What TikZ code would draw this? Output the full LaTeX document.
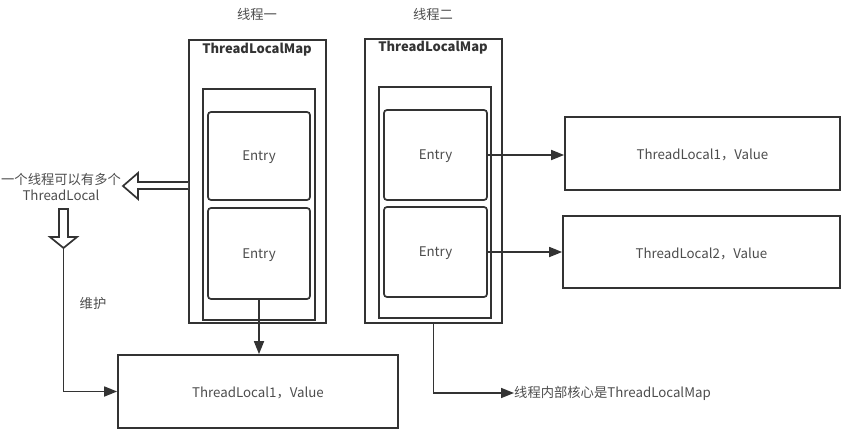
\documentclass[tikz,border=0pt]{standalone}
\usepackage{fontspec}
\setmainfont{Noto Sans CJK SC}
\usetikzlibrary{arrows.meta}
\definecolor{ln}{HTML}{333333}
\definecolor{tx}{HTML}{4D4D4D}
\begin{document}
\begin{tikzpicture}[x=1pt,y=-1pt,
  box/.style={draw=ln,line width=1.7pt,fill=white,inner sep=0pt},
  entrybox/.style={box,rounded corners=3pt},
  lbl/.style={text=tx,font=\fontsize{13.3}{15.5}\selectfont,inner sep=0pt},
  maplbl/.style={text=ln,font=\fontsize{13}{15}\selectfont\bfseries,inner sep=0pt},
  conn/.style={draw=ln,line width=1.7pt,-{Triangle[length=13pt,width=10pt]}},
  hollow/.style={draw=ln,line width=1.7pt,fill=white,line join=miter}]
\useasboundingbox (0,0) rectangle (851,436);
% thread 1
\node[box,minimum width=137pt,minimum height=283pt] (t1) at (257.5,181.5) {};
\node[box,minimum width=112pt,minimum height=231pt] (i1) at (259,204.5) {};
\node[entrybox,minimum width=102pt,minimum height=88pt] (e1a) at (259,156) {};
\node[entrybox,minimum width=102pt,minimum height=91pt] (e1b) at (259,253.5) {};
\node[lbl] (e1at) at ([yshift=-1.5pt]e1a.center) {Entry};
\node[lbl] (e1bt) at ([yshift=-1.5pt]e1b.center) {Entry};
\node[lbl] (ttl1) at (257,14) {线程一};
\node[maplbl] (m1) at (257,50) {ThreadLocalMap};
% thread 2
\node[box,minimum width=137pt,minimum height=284pt] (t2) at (433.5,181) {};
\node[box,minimum width=112pt,minimum height=231pt] (i2) at (435,202.5) {};
\node[entrybox,minimum width=103pt,minimum height=90pt] (e2a) at (435.5,155) {};
\node[entrybox,minimum width=103pt,minimum height=90pt] (e2b) at (435.5,252) {};
\node[lbl] (e2at) at ([yshift=-1.5pt]e2a.center) {Entry};
\node[lbl] (e2bt) at ([yshift=-1.5pt]e2b.center) {Entry};
\node[lbl] (ttl2) at (433,14) {线程二};
\node[maplbl] (m2) at (433,48) {ThreadLocalMap};
% value boxes
\node[box,minimum width=275pt,minimum height=73pt] (r1) at (702.5,153.5) {};
\node[lbl] (r1t) at ([yshift=-1.5pt]r1.center) {ThreadLocal1，Value};
\node[box,minimum width=277pt,minimum height=72pt] (r2) at (701.5,252) {};
\node[lbl] (r2t) at ([yshift=-1.5pt]r2.center) {ThreadLocal2，Value};
\node[box,minimum width=280pt,minimum height=73pt] (b1) at (258,391.5) {};
\node[lbl] (b1t) at ([yshift=-1.5pt]b1.center) {ThreadLocal1，Value};
% connectors
\draw[conn] (e2a.east) -- (e2a.east -| r1.west);
\draw[conn] (e2b.east) -- (e2b.east -| r2.west);
\draw[conn] (e1b.south) -- (e1b.south |- b1.north);
\node[lbl,anchor=west] (core) at (514,393) {线程内部核心是ThreadLocalMap};
\draw[conn] (t2.south) |- (core.west);
% left side
\node[lbl,align=center] (many) at (61,187) {一个线程可以有多个\\ThreadLocal};
\draw[hollow] (188,182) -- (138,182) -- (138,173) -- (123,186) -- (138,199) -- (138,189) -- (188,189);
\draw[hollow] (59,209) -- (59,237) -- (50,237) -- (63.5,248) -- (77,237) -- (68,237) -- (68,209) -- cycle;
\coordinate (dtip) at (63.5,248);
\draw[conn] (dtip) |- (b1.west);
\node[lbl] (wh) at (93,303) {维护};
\end{tikzpicture}
\end{document}
